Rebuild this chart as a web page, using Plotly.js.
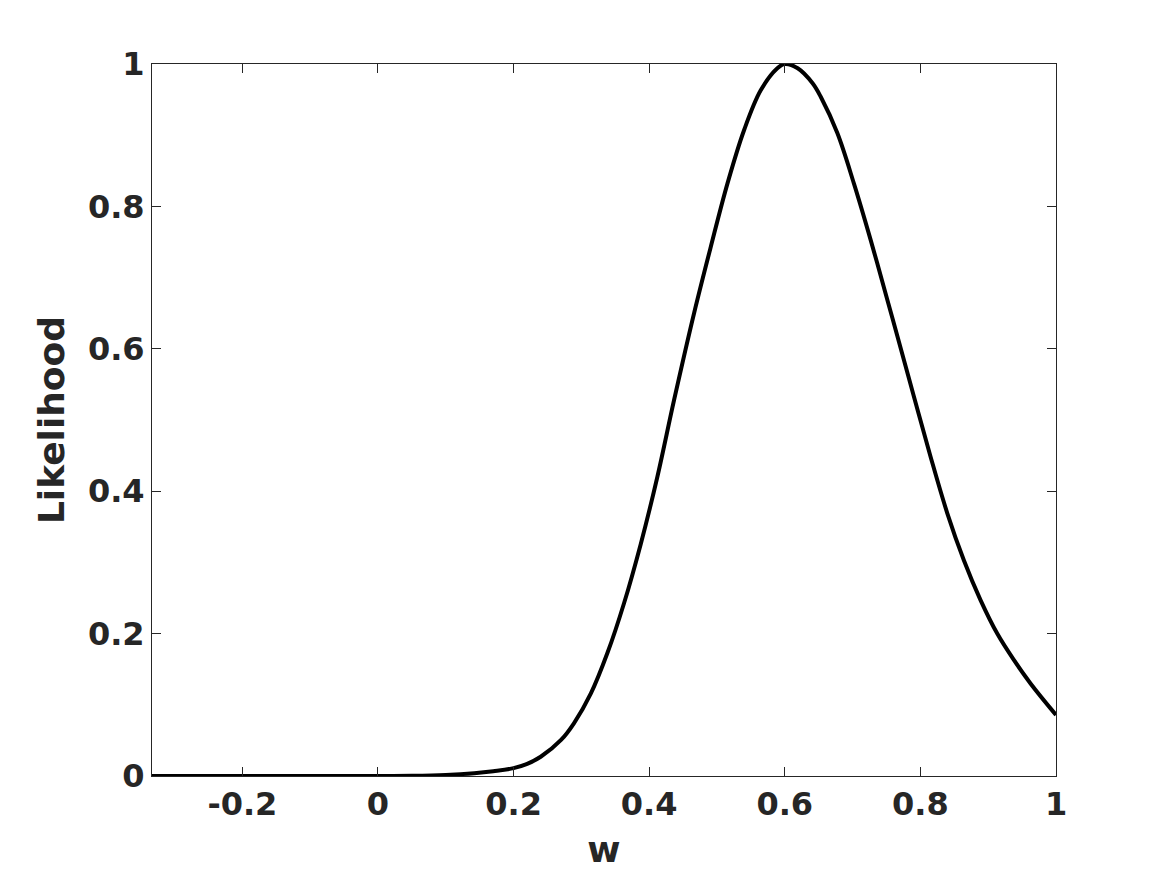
<!DOCTYPE html>
<html>
<head>
<meta charset="utf-8">
<script src="https://cdn.plot.ly/plotly-3.0.1.min.js"></script>
<style>
  html, body { margin: 0; padding: 0; background: #fff; }
  #myDiv { width: 1167px; height: 875px; }
</style>
</head>
<body>
<div id="myDiv"></div>
<script>
// values
var w = [-0.3333, -0.2, -0.1, 0, 0.05, 0.1, 0.142, 0.17, 0.2, 0.22, 0.240, 0.270, 0.289,
  0.314, 0.3385, 0.363, 0.3876, 0.412, 0.4367, 0.4662, 0.4908, 0.5154, 0.5399, 0.5645,
  0.589, 0.6, 0.619, 0.641, 0.653, 0.6775, 0.702, 0.7266, 0.7512, 0.766, 0.7904, 0.815,
  0.8397, 0.8641, 0.8887, 0.9133, 0.9378, 0.9624, 1.0];
var likelihood = [0, 0, 0, 0, 0.0003, 0.0015, 0.004, 0.0068, 0.011, 0.017, 0.027, 0.0506, 0.074,
  0.116, 0.173, 0.243, 0.326, 0.420, 0.528, 0.650, 0.743, 0.832, 0.907, 0.963,
  0.994, 1.0, 0.994, 0.973, 0.954, 0.903, 0.832, 0.753, 0.669, 0.618, 0.533, 0.4485,
  0.369, 0.303, 0.247, 0.200, 0.163, 0.130, 0.0857];

var xTicks = [-0.2, 0, 0.2, 0.4, 0.6, 0.8, 1];
var xTickText = ['-0.2', '0', '0.2', '0.4', '0.6', '0.8', '1'];
var yTicks = [0, 0.2, 0.4, 0.6, 0.8, 1];
var yTickText = ['0', '0.2', '0.4', '0.6', '0.8', '1'];

var trace1 = {
  x: w,
  y: likelihood,
  type: 'scatter',
  mode: 'lines',
  line: {color: '#000000', width: 4, shape: 'spline', smoothing: 1},
  hoverinfo: 'skip'
};

var axisColor = '#262626';
var tickFont = {family: 'DejaVu Sans', size: 32, color: axisColor, weight: 'bold'};
var labelFont = {family: 'DejaVu Sans', size: 36, color: axisColor, weight: 'bold'};

var layout = {
  width: 1167,
  height: 875,
  margin: {l: 152, r: 111, t: 64, b: 99},
  paper_bgcolor: '#ffffff',
  plot_bgcolor: '#ffffff',
  showlegend: false,
  font: {family: 'DejaVu Sans', color: axisColor},
  xaxis: {
    range: [-0.3333, 1],
    tickmode: 'array',
    tickvals: xTicks,
    ticktext: xTickText,
    ticks: 'inside',
    ticklen: 9,
    tickwidth: 1,
    tickcolor: axisColor,
    showline: true,
    linecolor: axisColor,
    linewidth: 1,
    mirror: 'ticks',
    showgrid: false,
    zeroline: false,
    tickfont: tickFont,
    automargin: false,
    title: {text: 'w', font: labelFont, standoff: 14}
  },
  yaxis: {
    range: [0, 1],
    tickmode: 'array',
    tickvals: yTicks,
    ticktext: yTickText,
    ticks: 'inside',
    ticklen: 9,
    tickwidth: 1,
    tickcolor: axisColor,
    showline: true,
    linecolor: axisColor,
    linewidth: 1,
    mirror: 'ticks',
    showgrid: false,
    zeroline: false,
    tickfont: tickFont,
    automargin: false,
    title: {text: 'Likelihood', font: labelFont, standoff: 12}
  }
};

Plotly.newPlot('myDiv', [trace1], layout, {displayModeBar: false, staticPlot: true});
</script>
</body>
</html>
